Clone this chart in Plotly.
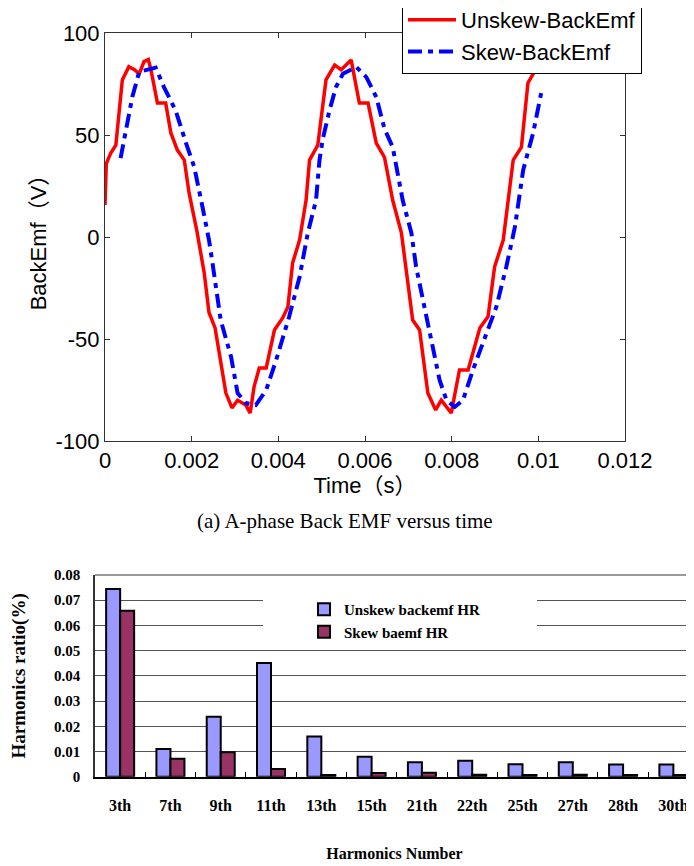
import plotly.graph_objects as go

# page body has an 8px margin, so the figure is laid out for the visible 686x858 area
OFF = 8
W, H = 694 - OFF, 866 - OFF

# ---------------- data: (a) back EMF versus time ----------------
t_unskew = [0, 0.00003, 0.00013, 0.00025, 0.0004, 0.00055, 0.00068, 0.00079, 0.0009, 0.001,
            0.00106, 0.00121, 0.0014, 0.00152, 0.00167, 0.00183, 0.00194, 0.00212, 0.00229, 0.0024,
            0.00254, 0.00267, 0.00279, 0.00293, 0.00306, 0.00325, 0.00335, 0.00344, 0.00356, 0.00372,
            0.00391, 0.0041, 0.00422, 0.00433, 0.00449, 0.00464, 0.00472, 0.00491, 0.0051, 0.0053,
            0.00545, 0.00568, 0.00587, 0.00607, 0.00626, 0.00645, 0.00654, 0.00664, 0.00684, 0.0071,
            0.00726, 0.00745, 0.00763, 0.00776, 0.00799, 0.00818, 0.00838, 0.00865, 0.00884, 0.00899,
            0.00919, 0.0093, 0.00942, 0.00961, 0.00976, 0.00988, 0.01]
v_unskew = [15.7, 36, 41, 45, 77, 83.5, 82, 80, 86, 87,
            82, 65.7, 65.7, 51, 42.6, 37.7, 21.6, 3, -17.6, -37,
            -44.6, -60, -76.5, -83.8, -80, -82.4, -86.3, -73.4, -64.2, -64.2,
            -45.6, -39.7, -34.3, -12.7, -1.5, 18, 37.7, 45, 77, 84.3,
            82, 86.8, 65.7, 65.7, 46, 39, 28, 18, 2, -40.7,
            -45.6, -76.5, -84.8, -80, -86.3, -65.2, -65.2, -44.6, -39, -14.7,
            -1.5, 18, 37.7, 44, 75.5, 80, 85]

t_skew = [0.00036, 0.00048, 0.00063, 0.00079, 0.00098, 0.00117, 0.00136, 0.00163, 0.00187, 0.00206,
          0.00225, 0.0024, 0.00248, 0.00267, 0.00291, 0.00306, 0.00325, 0.00348, 0.00372, 0.00395,
          0.00425, 0.00449, 0.00468, 0.00487, 0.00495, 0.00502, 0.00518, 0.00533, 0.00549, 0.0058,
          0.00603, 0.00626, 0.00645, 0.00664, 0.00687, 0.00707, 0.00718, 0.00738, 0.00757, 0.00772,
          0.00788, 0.00807, 0.00826, 0.00849, 0.00872, 0.00903, 0.00926, 0.00946, 0.00965, 0.00988,
          0.01007]
v_skew = [38.7, 51, 68.6, 81, 82, 83, 73.5, 62, 46, 34.3,
          14.7, -1.5, -12.7, -40.7, -58.8, -76.5, -81.4, -82.4, -75, -60.3,
          -39, -19.6, 2, 18, 37.7, 47.5, 62, 73.5, 80, 83.3,
          78.4, 68.6, 53, 44, 18, 2, -14.7, -35.8, -55.4, -70,
          -80, -83.3, -80, -65.2, -52, -34.3, -14.7, 4.9, 32.8, 51,
          71]

time_ticks = [0, 0.002, 0.004, 0.006, 0.008, 0.01, 0.012]
time_labels = ["0", "0.002", "0.004", "0.006", "0.008", "0.01", "0.012"]
emf_ticks = [-100, -50, 0, 50, 100]
emf_labels = ["-100", "-50", "0", "50", "100"]

# ---------------- data: harmonics ratio ----------------
harmonics = ["3th", "7th", "9th", "11th", "13th", "15th", "21th", "22th", "25th", "27th", "28th", "30th"]
unskew_hr = [0.0744, 0.011, 0.0238, 0.0451, 0.0159, 0.0079, 0.0057, 0.0063, 0.0049, 0.0057, 0.0048, 0.0048]
skew_hr = [0.0658, 0.0071, 0.0097, 0.0031, 0.0007, 0.0015, 0.0016, 0.0008, 0.0007, 0.0008, 0.0007, 0.0007]
hr_ticks = [0, 0.01, 0.02, 0.03, 0.04, 0.05, 0.06, 0.07, 0.08]
hr_labels = ["0", "0.01", "0.02", "0.03", "0.04", "0.05", "0.06", "0.07", "0.08"]


def px(s):
    return (s - OFF) / W


def py(s):
    return 1 - (s - OFF) / H


SANS = "Liberation Sans, Arial, Noto Sans CJK SC, sans-serif"
SERIF = "Liberation Serif, Times New Roman, serif"

fig = go.Figure()
fig.add_trace(go.Scatter(x=t_unskew, y=v_unskew, mode="lines", name="Unskew-BackEmf",
                         line=dict(color="#ff0000", width=3.5), xaxis="x", yaxis="y", legend="legend"))
fig.add_trace(go.Scatter(x=t_skew, y=v_skew, mode="lines", name="Skew-BackEmf",
                         line=dict(color="#0000ff", width=4, dash="14px,6px,5px,6px"),
                         xaxis="x", yaxis="y", legend="legend"))
fig.add_trace(go.Bar(x=harmonics, y=unskew_hr, name="Unskew backemf HR",
                     marker=dict(color="#9999ff", line=dict(color="black", width=2)),
                     xaxis="x2", yaxis="y2", legend="legend2"))
fig.add_trace(go.Bar(x=harmonics, y=skew_hr, name="Skew baemf HR",
                     marker=dict(color="#993366", line=dict(color="black", width=2)),
                     xaxis="x2", yaxis="y2", legend="legend2"))

axis_common = dict(showline=True, linecolor="#333333", linewidth=1, ticks="inside", ticklen=5,
                   tickcolor="#333333", mirror="ticks", showgrid=False, zeroline=False, automargin=False,
                   tickfont=dict(family=SANS, size=22, color="black"))

fig.update_layout(
    width=W, height=H,
    margin=dict(l=0, r=0, t=0, b=0, autoexpand=False),
    paper_bgcolor="white", plot_bgcolor="white",
    barmode="group", bargap=0.443, bargroupgap=0,
    xaxis=dict(domain=[px(105), px(625)], anchor="y", range=[0, 0.012],
               tickvals=time_ticks, ticktext=time_labels,
               title=dict(text="Time（s）", font=dict(family=SANS, size=22, color="black"), standoff=4),
               **axis_common),
    yaxis=dict(domain=[py(441), py(33)], anchor="x", range=[-100, 100],
               tickvals=emf_ticks, ticktext=emf_labels,
               title=dict(text="BackEmf（V）", font=dict(family=SANS, size=22, color="black"), standoff=2),
               **axis_common),
    xaxis2=dict(domain=[px(95), 1], anchor="y2", type="category", range=[-0.5, 11.41],
                showline=True, linecolor="black", linewidth=2, ticks="inside", tickson="boundaries",
                ticklen=5, tickcolor="black", showgrid=False, zeroline=False, ticklabelstandoff=13,
                automargin=False,
                tickfont=dict(family=SERIF, size=16, color="black", weight="bold"),
                title=dict(text="Harmonics Number", font=dict(family=SERIF, size=16, color="black", weight="bold"),
                           standoff=35)),
    yaxis2=dict(domain=[py(776.7), py(575)], anchor="x2", range=[0, 0.08],
                tickvals=hr_ticks, ticktext=hr_labels, showline=True, linecolor="#333333", linewidth=1.5,
                ticks="", showgrid=True, gridcolor="#555555", gridwidth=1, zeroline=False, automargin=False,
                ticklabelstandoff=10,
                tickfont=dict(family=SERIF, size=15, color="black", weight="bold"),
                title=dict(text="Harmonics ratio(%)", font=dict(family=SERIF, size=19, color="black", weight="bold"),
                           standoff=24)),
    legend=dict(x=px(402), y=py(-2), xanchor="left", yanchor="top", bgcolor="white",
                bordercolor="black", borderwidth=1, itemwidth=48,
                font=dict(family=SANS, size=22, color="black"), tracegroupgap=0),
    legend2=dict(x=px(304), y=py(593), xanchor="left", yanchor="top", bgcolor="rgba(0,0,0,0)",
                 borderwidth=0, font=dict(family=SERIF, size=15, color="black", weight="bold"),
                 tracegroupgap=0),
    shapes=[
        dict(type="rect", xref="paper", yref="paper", x0=px(263), x1=px(537), y0=py(634), y1=py(595),
             fillcolor="white", line=dict(width=0), layer="above"),
        dict(type="line", xref="paper", yref="paper", x0=px(95), x1=1, y0=py(575), y1=py(575),
             line=dict(color="#999999", width=2), layer="above"),
    ],
    annotations=[
        dict(text="(a) A-phase Back EMF versus time", xref="paper", yref="paper", x=px(345), y=py(521),
             xanchor="center", yanchor="middle", showarrow=False,
             font=dict(family=SERIF, size=21, color="black")),
    ],
)

fig.write_html("out.html")
